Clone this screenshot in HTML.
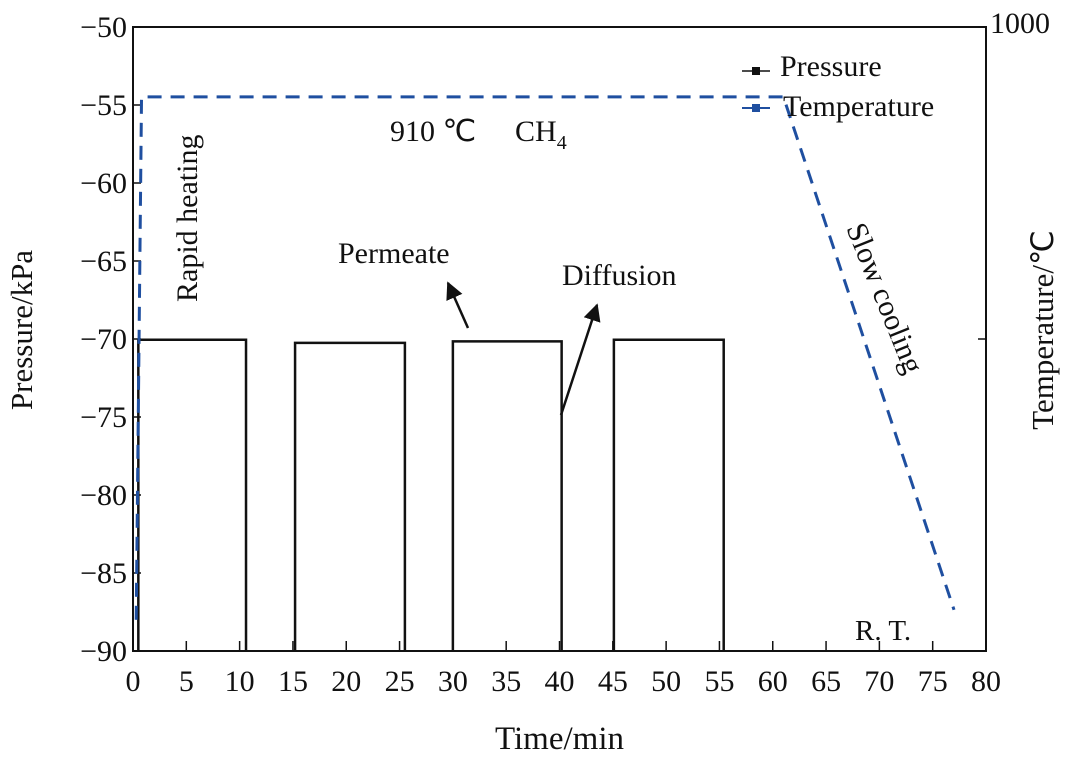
<!DOCTYPE html>
<html><head><meta charset="utf-8"><style>
body{margin:0;background:#fff}
svg text{font-family:"Liberation Serif",serif;fill:#111}
</style></head><body>
<svg width="1080" height="760" id="c">
<defs><marker id="ah" viewBox="0 0 10 10" refX="9" refY="5" markerWidth="7" markerHeight="7" orient="auto"><path d="M0,0L10,5L0,10z" fill="#111"/></marker></defs>
</svg>
<script>
const xTicks=[0,5,10,15,20,25,30,35,40,45,50,55,60,65,70,75,80];
const yTicks=[-50,-55,-60,-65,-70,-75,-80,-85,-90];
const boxStarts=[0.5,15.2,30,45.1];
const boxEnds=[10.6,25.5,40.2,55.4];
const boxLevels=[-70.05,-70.25,-70.15,-70.05];
const tempTimes=[0.3,0.8,61,77];
const tempVals=[50,888,888,66];
const L=133,R=986,T=27,B=651;
const X=v=>L+(v-0)/80*(R-L);
const Y=v=>T+(-50-v)/40*(B-T);
const YT=v=>T+(1000-v)/1000*(B-T);
const svg=document.getElementById('c');
const NS='http://www.w3.org/2000/svg';
function mk(tag,attrs,parent){const e=document.createElementNS(NS,tag);for(const k in attrs)e.setAttribute(k,attrs[k]);(parent||svg).appendChild(e);return e;}
function txt(s,x,y,size,anchor,name,rot,parent){const t=mk('text',{x:x,y:y,'font-size':size,'text-anchor':anchor||'start'},parent);if(rot)t.setAttribute('transform',rot);t.textContent=s;


return t;}
const fr=mk('rect',{x:L,y:T,width:R-L,height:B-T,fill:'none',stroke:'#111','stroke-width':2});


xTicks.forEach(v=>{const l=mk('line',{x1:X(v),x2:X(v),y1:B,y2:B-10,stroke:'#111','stroke-width':1.5});


txt(String(v),X(v),B+40,30,'middle','x-tick-label');});
yTicks.forEach(v=>{const l=mk('line',{x1:L,x2:L+8,y1:Y(v),y2:Y(v),stroke:'#111','stroke-width':1.5});


txt('\u2212'+Math.abs(v),L-6,Y(v)+10,30,'end','y-tick-label');});
[1000,500].forEach(v=>{const l=mk('line',{x1:R,x2:R-8,y1:YT(v),y2:YT(v),stroke:'#111','stroke-width':1.5});

});
txt('1000',R+4,YT(1000)+6,30,'start','right-tick-label');
txt('Time/min',(L+R)/2,749,33,'middle','x-axis-title');
txt('Pressure/kPa',0,0,31,'middle','y-axis-title','translate(32,330) rotate(-90)');
txt('Temperature/\u2103',0,0,31,'middle','right-axis-title','translate(1053,330) rotate(-90)');
boxStarts.forEach((s,i)=>{const e=boxEnds[i],lv=boxLevels[i];
const p=mk('path',{d:'M'+X(s)+','+Y(-90)+'L'+X(s)+','+Y(lv)+'L'+X(e)+','+Y(lv)+'L'+X(e)+','+Y(-90),fill:'none',stroke:'#111','stroke-width':2.5});

});
let d='';tempTimes.forEach((t,i)=>{d+=(i?'L':'M')+X(t)+','+YT(tempVals[i]);});
const tp=mk('path',{d:d,fill:'none',stroke:'#1f4fa0','stroke-width':3,'stroke-dasharray':'14,9'});


txt('Rapid heating',0,0,30,'start','rapid-heating-label','translate(197,302) rotate(-90)');
txt('910 \u2103',390,141,30,'start','temp-label');
const ch=txt('CH',515,141,30,'start','ch4-label');const sb=mk('tspan',{dy:8,'font-size':20},ch);sb.textContent='4';
txt('Permeate',338,263,30,'start','permeate-label');
txt('Diffusion',562,285,30,'start','diffusion-label');
txt('Slow cooling',0,0,30,'start','slow-cooling-label','translate(846,228) rotate(68)');
txt('R. T.',855,640,29,'start','rt-label');
const a1=mk('line',{x1:468,y1:328,x2:448,y2:283,stroke:'#111','stroke-width':2.5,'marker-end':'url(#ah)'});


const a2=mk('line',{x1:561,y1:415,x2:597,y2:305,stroke:'#111','stroke-width':2.5,'marker-end':'url(#ah)'});


const g=mk('g',{});


mk('line',{x1:742,x2:770,y1:71,y2:71,stroke:'#111','stroke-width':1.5},g);
mk('rect',{x:752,y:67,width:8,height:8,fill:'#111'},g);
txt('Pressure',780,76,30,'start','legend-pressure',null,g);
mk('line',{x1:742,x2:770,y1:108,y2:108,stroke:'#1f4fa0','stroke-width':2},g);
mk('rect',{x:752,y:104,width:8,height:8,fill:'#1f4fa0'},g);
txt('Temperature',783,116,30,'start','legend-temperature',null,g);
</script>
</body></html>
